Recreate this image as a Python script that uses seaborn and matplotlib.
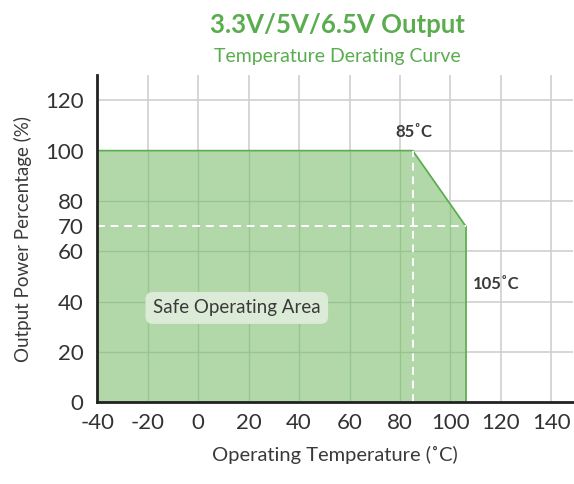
import numpy as np
import pandas as pd
import matplotlib
matplotlib.use("Agg")
import matplotlib.pyplot as plt
import seaborn as sns

# derating curve points
temp = [-40, 85, 106]
power = [100, 100, 70]
x_ticks = [-40, -20, 0, 20, 40, 60, 80, 100, 120, 140]
y_ticks = [0, 20, 40, 60, 70, 80, 100, 120]
y_grid = [20, 40, 60, 80, 100, 120]

sns.set_style("white")
plt.rcParams['font.family'] = ['Lato', 'DejaVu Sans']
plt.rcParams['axes.unicode_minus'] = False

green = '#5aad4f'
fill = '#b2d8aa'
text_col = '#3a3a3a'

fig = plt.figure(figsize=(5.74, 4.84), dpi=100)
ax = fig.add_axes([0.1695, 0.1688, 0.8285, 0.676])

df = pd.DataFrame({'temp': temp, 'power': power})


def curve_x(p):
    # temperature where the curve reaches power p (on the slope)
    return temp[1] + (power[1] - p) * (temp[2] - temp[1]) / (power[1] - power[2])


ax.fill_between(df['temp'], df['power'], 0, color=fill, zorder=1)
ax.vlines(temp[-1], 0, power[-1], color=green, lw=1.2, zorder=3)
sns.lineplot(data=df, x='temp', y='power', color=green, lw=1.2, ax=ax, zorder=3)

# grid
for xv in x_ticks[1:]:
    ax.axvline(xv, color='#cfcfcf', lw=1.2, zorder=0)
for yv in y_grid:
    ax.axhline(yv, color='#cfcfcf', lw=1.2, zorder=0)
# darker grid inside filled area
for xv in x_ticks[1:]:
    if xv < temp[-1]:
        top = 100 if xv <= 85 else 100 - (xv - 85) * 30 / (temp[-1] - 85)
        ax.vlines(xv, 0, top, color='#98c58e', lw=1.0, zorder=2)
for yv in y_grid:
    if yv < 100:
        end = temp[-1] if yv <= 70 else curve_x(yv)
        ax.hlines(yv, -40, end, color='#98c58e', lw=1.0, zorder=2)

# dashed markers
ax.vlines(85, 0, 100, color='white', lw=1.4, ls=(0, (4, 3)), zorder=4)
ax.hlines(70, -40, temp[-1], color='white', lw=1.4, ls=(0, (4, 3)), zorder=4)

ax.set_xlim(-40, 148.5)
ax.set_ylim(0, 130)
ax.set_xticks(x_ticks)
ax.set_yticks(y_ticks)
ax.tick_params(axis='both', labelsize=16, colors='#333333', length=0)
ax.tick_params(axis='x', pad=8)
ax.tick_params(axis='y', pad=10)
for s in ['top', 'right']:
    ax.spines[s].set_visible(False)
for s in ['left', 'bottom']:
    ax.spines[s].set_color('#222222')
    ax.spines[s].set_linewidth(2)
    ax.spines[s].set_zorder(5)

ax.set_xlabel('Operating Temperature (˚C)', fontsize=14.5, color=text_col, labelpad=9)
ax.set_ylabel('Output Power Percentage (%)', fontsize=13.5, color=text_col, labelpad=9)

ax.text(85.5, 107.5, '85˚C', fontsize=12, fontweight='bold', color=text_col,
        ha='center', va='center')
ax.text(109, 47, '105˚C', fontsize=12, fontweight='bold', color=text_col,
        ha='left', va='center')
ax.text(15.3, 37.5, 'Safe Operating Area', fontsize=13.5, color=text_col,
        ha='center', va='center', zorder=6,
        bbox=dict(boxstyle='round,pad=0.4,rounding_size=0.4', fc='#dcebd7', ec='none'))

fig.text(0.587, 0.948, '3.3V/5V/6.5V Output', fontsize=18.5, fontweight='bold',
         color=green, ha='center', va='center')
fig.text(0.587, 0.884, 'Temperature Derating Curve', fontsize=14,
         color=green, ha='center', va='center')

fig.savefig('out.png', dpi=100)
